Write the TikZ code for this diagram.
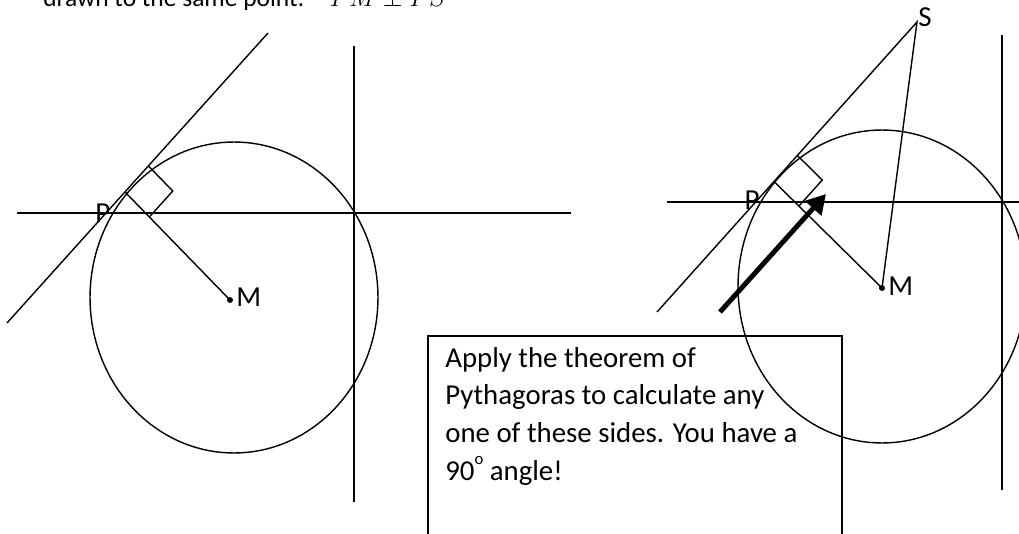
\documentclass[tikz,border=0pt]{standalone}
\usepackage{fontspec}
\setmainfont{Carlito}
\usetikzlibrary{calc, arrows.meta}

\begin{document}
\begin{tikzpicture}[x=0.02cm, y=-0.02cm,
    geo/.style={line width=0.8pt},
    lbl/.style={font=\fontsize{16.5}{19}\selectfont, inner sep=0pt},
    txt/.style={font=\fontsize{16.4}{21.4}\selectfont, inner sep=0pt}]
  \useasboundingbox (0,0) rectangle (1019,534);
  \clip (0,0) rectangle (1019,534);

  % heading (cut off at the top)
  \node[anchor=base west, inner sep=0pt, font=\fontsize{14.5}{17}\selectfont] (head) at (43,7)
    {drawn to the same point:\quad $PM \perp PS$};

  % left figure
  \coordinate (M1) at (230,300);
  \coordinate (t1a) at (7,323);
  \coordinate (t1b) at (268,33);
  \coordinate (h1a) at (17,213);
  \coordinate (h1b) at (571,213);
  \coordinate (v1a) at (354,46);
  \coordinate (v1b) at (354,502);
  \coordinate (P1) at ($(t1a)!0.452!(t1b)$);
  \draw[geo] (234,297.5) ellipse [x radius=2.88cm, y radius=3.11cm];
  \draw[geo] (t1a) -- (t1b);
  \draw[geo] (h1a) -- (h1b);
  \draw[geo] (v1a) -- (v1b);
  \draw[geo] (P1) -- (M1);
  \coordinate (q1a) at ($(P1)!0.7cm!(t1b)$);
  \coordinate (q1c) at ($(P1)!0.7cm!(M1)$);
  \draw[geo] (q1a) -- ($(q1a)+(q1c)-(P1)$) -- (q1c);
  \fill (M1) circle (1.7pt);
  \node[lbl, anchor=west] (m1) at ($(M1)+(6,-3)$) {M};
  \node[lbl] (p1) at ($(P1)+(-22,21)$) {P};

  % right figure
  \coordinate (M2) at (882,288);
  \coordinate (S) at (917,22);
  \coordinate (t2a) at (657,312);
  \coordinate (h2a) at (667,202);
  \coordinate (h2b) at (1030,202);
  \coordinate (v2a) at (1002,35);
  \coordinate (v2b) at (1002,490);
  \coordinate (P2) at ($(t2a)!0.45!(S)$);
  \draw[geo] (882,286.5) ellipse [x radius=2.88cm, y radius=3.13cm];
  \draw[geo] (t2a) -- (S) -- (M2);
  \draw[geo] (h2a) -- (h2b);
  \draw[geo] (v2a) -- (v2b);
  \draw[geo] (P2) -- (M2);
  \coordinate (q2a) at ($(P2)!0.7cm!(S)$);
  \coordinate (q2c) at ($(P2)!0.7cm!(M2)$);
  \draw[geo] (q2a) -- ($(q2a)+(q2c)-(P2)$) -- (q2c);
  \fill (M2) circle (1.7pt);
  \node[lbl, anchor=west] (m2) at ($(M2)+(6,-2)$) {M};
  \node[lbl] (p2) at ($(P2)+(-22,19)$) {P};
  \node[lbl, anchor=west] (s) at ($(S)+(1,-5)$) {S};

  % hint arrow and note
  \coordinate (a0) at (720,312);
  \coordinate (a1) at (826,194);
  \draw[line width=2.8pt, -{Triangle[length=11pt, width=12pt]}] (a0) -- (a1);
  \draw[geo] (428,560) -- (428,336) -- (842,336) -- (842,560);
  \node[txt, anchor=base west, align=left] (note) at (445,480)
    {Apply the theorem of\\Pythagoras to calculate any\\one of these sides. You have a\\90\raisebox{1.1ex}{\fontsize{9.5}{10}\selectfont o} angle!};
\end{tikzpicture}
\end{document}
